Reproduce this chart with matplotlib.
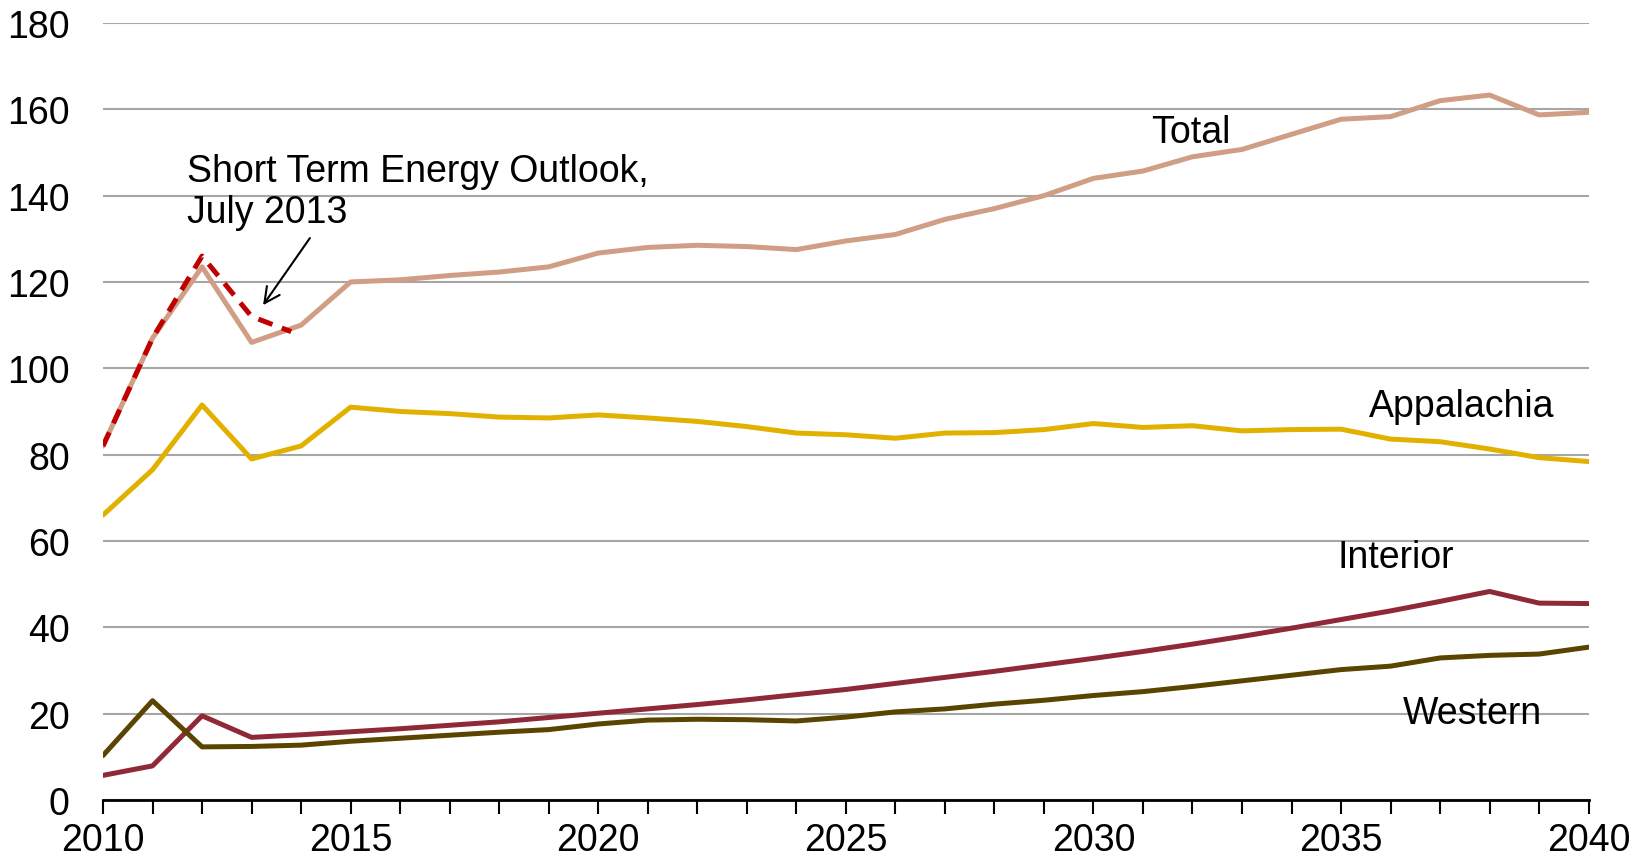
import matplotlib.pyplot as plt
from matplotlib.ticker import MultipleLocator

plt.rcParams['font.family'] = ['Liberation Sans', 'DejaVu Sans']

years = list(range(2010, 2041))
total = [82, 107, 123.5, 106, 110, 120, 120.5, 121.5, 122.3, 123.5,
         126.7, 128, 128.5, 128.2, 127.5, 129.5, 131, 134.5, 137, 140,
         144, 145.7, 149, 150.7, 154.2, 157.7, 158.3, 162, 163.3, 158.7, 159.3]
appalachia = [66, 76.5, 91.5, 79, 82, 91, 90, 89.5, 88.7, 88.5,
              89.2, 88.5, 87.7, 86.5, 85, 84.6, 83.8, 85, 85.1, 85.8,
              87.2, 86.3, 86.7, 85.5, 85.8, 85.9, 83.6, 83, 81.3, 79.3, 78.4]
interior = [5.7, 7.9, 19.5, 14.5, 15.1, 15.8, 16.5, 17.3, 18.1, 19.1,
            20.1, 21.1, 22.1, 23.2, 24.4, 25.6, 27, 28.4, 29.8, 31.3,
            32.8, 34.4, 36.1, 37.9, 39.8, 41.8, 43.8, 46, 48.3, 45.6, 45.5]
western = [10.3, 23, 12.3, 12.4, 12.7, 13.6, 14.3, 15, 15.7, 16.3,
           17.6, 18.5, 18.7, 18.6, 18.3, 19.2, 20.4, 21.1, 22.2, 23.1,
           24.2, 25.1, 26.3, 27.6, 28.9, 30.2, 31.0, 32.9, 33.5, 33.8, 35.4]
steo_years = [2010, 2011, 2012, 2013, 2013.8]
steo = [82, 107, 126, 112, 108.5]

fig = plt.figure(figsize=(16.48, 8.62), dpi=100)
ax = fig.add_axes([0.0625, 0.0708, 0.9015, 0.9014])

lw = 3.6
ax.plot(years, total, color='#CF9E84', lw=lw, solid_capstyle='round', zorder=3)
ax.plot(years, appalachia, color='#E2B100', lw=lw, solid_capstyle='round', zorder=3)
ax.plot(years, interior, color='#8F2937', lw=lw, solid_capstyle='round', zorder=3)
ax.plot(years, western, color='#5A4500', lw=lw, solid_capstyle='round', zorder=3)
ax.plot(steo_years, steo, color='#C00000', lw=lw, ls=(0, (3, 2)), zorder=4)

ax.set_xlim(2010, 2040)
ax.set_ylim(0, 180)
ax.set_yticks(range(0, 181, 20))
ax.set_xticks(range(2010, 2041, 5))
ax.xaxis.set_minor_locator(MultipleLocator(1))
ax.grid(axis='y', color='#A6A6A6', lw=1.5)
ax.set_axisbelow(True)

for s in ['left', 'right', 'top']:
    ax.spines[s].set_visible(False)
ax.spines['bottom'].set_linewidth(2)
ax.spines['bottom'].set_zorder(5)

ax.tick_params(axis='y', length=0, pad=24, labelsize=27)
ax.tick_params(axis='x', which='both', length=10, width=1.5, direction='out', labelsize=27, pad=6)

# baseline of the last line
ax.text(2011.7, 134, 'Short Term Energy Outlook,\nJuly 2013', fontsize=27,
        va='baseline', ha='left', linespacing=1.15)
ax.annotate('', xy=(2013.2, 114.1), xytext=(2014.21, 130.7),
            arrowprops=dict(arrowstyle='->', color='black', lw=1.5, mutation_scale=28))

ax.text(2031.16, 152.4, 'Total', fontsize=27, va='baseline')
ax.text(2035.57, 88.9, 'Appalachia', fontsize=27, va='baseline')
ax.text(2034.93, 54, 'Interior', fontsize=27, va='baseline')
ax.text(2036.25, 17.8, 'Western', fontsize=27, va='baseline')

fig.savefig('out.png', dpi=100)
